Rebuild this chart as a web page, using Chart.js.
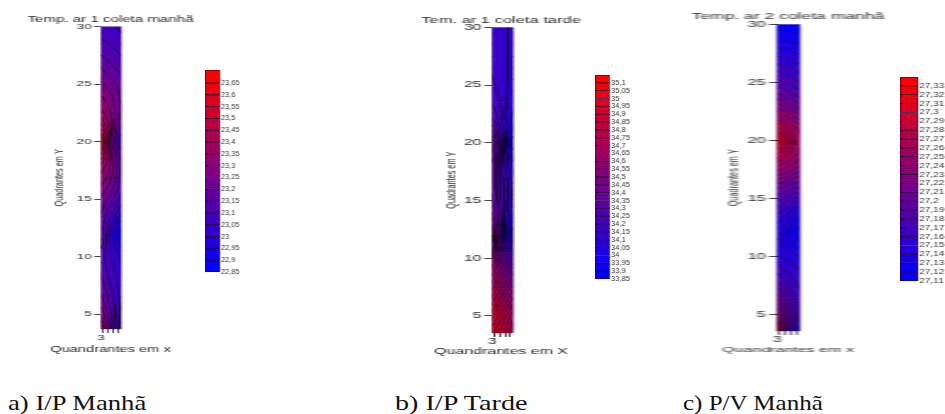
<!DOCTYPE html>
<html>
  <head>
    <meta charset="utf-8" />
    <script src="https://cdn.jsdelivr.net/npm/chart.js@4/dist/chart.umd.js"></script>
    <style>
      body { margin: 0; background: #fff; overflow: hidden; }
      .panel { position: absolute; top: 0; transform-origin: 0 0; filter: blur(0.4px); }
      .caption {
        position: absolute; top: 391px; transform-origin: 0 0; white-space: nowrap;
        font: 21px 'Liberation Serif', serif; color: #111;
      }
    </style>
  </head>

  <body>
    <div class="caption" style="left: 8px; transform: scaleX(1.27)">a) I/P Manhã</div>
    <div class="caption" style="left: 395px; transform: scaleX(1.34)">b) I/P Tarde</div>
    <div class="caption" style="left: 683px; transform: scaleX(1.19)">c) P/V Manhã</div>
    <script>
      // rows run top to bottom, columns left to right; last row is the bottom edge of the strip
      const rowsY = [30, 29, 28, 27, 26, 25, 24, 23, 22, 21, 20, 19, 18, 17, 16, 15, 14, 13, 12, 11, 10, 9, 8, 7, 6, 5, 3.5];
      const colsX = [3, 3.25, 3.5, 3.75, 4];
      const yTicks = [5, 10, 15, 20, 25, 30];

      const tempA = [
        [23.07, 23.06, 23.05, 23.05, 23.04],
        [23.10, 23.09, 23.08, 23.07, 23.06],
        [23.13, 23.12, 23.11, 23.10, 23.09],
        [23.17, 23.16, 23.14, 23.13, 23.11],
        [23.22, 23.20, 23.18, 23.16, 23.15],
        [23.26, 23.24, 23.22, 23.20, 23.17],
        [23.30, 23.28, 23.26, 23.22, 23.19],
        [23.34, 23.32, 23.28, 23.24, 23.20],
        [23.41, 23.36, 23.31, 23.25, 23.18],
        [23.51, 23.42, 23.32, 23.22, 23.13],
        [23.66, 23.46, 23.28, 23.16, 23.04],
        [23.51, 23.41, 23.31, 23.21, 23.12],
        [23.40, 23.35, 23.29, 23.22, 23.15],
        [23.34, 23.31, 23.26, 23.21, 23.14],
        [23.29, 23.26, 23.22, 23.17, 23.12],
        [23.24, 23.21, 23.17, 23.13, 23.08],
        [23.21, 23.16, 23.12, 23.07, 23.01],
        [23.18, 23.13, 23.07, 23.00, 22.93],
        [23.17, 23.10, 23.01, 22.94, 22.88],
        [23.16, 23.10, 23.04, 22.99, 22.94],
        [23.13, 23.09, 23.05, 23.02, 22.99],
        [23.13, 23.10, 23.07, 23.04, 23.01],
        [23.16, 23.12, 23.08, 23.05, 23.02],
        [23.19, 23.15, 23.11, 23.06, 23.03],
        [23.23, 23.18, 23.13, 23.08, 23.04],
        [23.29, 23.22, 23.16, 23.09, 23.04],
        [23.47, 23.30, 23.16, 23.09, 23.03],
      ];
      const tempB = [
        [34.13, 34.12, 34.11, 34.10, 34.09],
        [34.13, 34.12, 34.11, 34.10, 34.09],
        [34.14, 34.13, 34.12, 34.10, 34.09],
        [34.14, 34.13, 34.12, 34.10, 34.08],
        [34.15, 34.14, 34.12, 34.10, 34.08],
        [34.16, 34.14, 34.12, 34.10, 34.07],
        [34.18, 34.16, 34.13, 34.09, 34.06],
        [34.21, 34.18, 34.14, 34.09, 34.05],
        [34.26, 34.21, 34.15, 34.09, 34.03],
        [34.36, 34.27, 34.17, 34.07, 33.98],
        [34.50, 34.35, 34.18, 34.03, 33.90],
        [34.38, 34.30, 34.20, 34.08, 33.98],
        [34.34, 34.28, 34.20, 34.11, 34.02],
        [34.34, 34.28, 34.21, 34.14, 34.06],
        [34.34, 34.28, 34.22, 34.15, 34.08],
        [34.36, 34.29, 34.22, 34.15, 34.08],
        [34.40, 34.32, 34.23, 34.14, 34.05],
        [34.50, 34.38, 34.24, 34.10, 33.98],
        [34.70, 34.45, 34.25, 34.05, 33.88],
        [34.62, 34.48, 34.32, 34.18, 34.05],
        [34.62, 34.52, 34.41, 34.32, 34.24],
        [34.68, 34.60, 34.51, 34.44, 34.36],
        [34.76, 34.68, 34.60, 34.52, 34.45],
        [34.84, 34.76, 34.68, 34.60, 34.54],
        [34.92, 34.84, 34.76, 34.69, 34.62],
        [35.00, 34.92, 34.84, 34.77, 34.70],
        [35.12, 35.02, 34.93, 34.85, 34.76],
      ];
      const tempC = [
        [27.115, 27.114, 27.114, 27.113, 27.112],
        [27.126, 27.125, 27.124, 27.123, 27.122],
        [27.140, 27.138, 27.136, 27.135, 27.133],
        [27.154, 27.152, 27.150, 27.147, 27.145],
        [27.170, 27.167, 27.164, 27.161, 27.158],
        [27.184, 27.181, 27.178, 27.174, 27.170],
        [27.202, 27.198, 27.194, 27.190, 27.184],
        [27.225, 27.220, 27.214, 27.208, 27.202],
        [27.253, 27.246, 27.239, 27.232, 27.225],
        [27.285, 27.276, 27.264, 27.256, 27.248],
        [27.312, 27.298, 27.278, 27.262, 27.252],
        [27.285, 27.276, 27.264, 27.256, 27.248],
        [27.255, 27.250, 27.245, 27.240, 27.234],
        [27.230, 27.226, 27.222, 27.216, 27.211],
        [27.202, 27.200, 27.196, 27.192, 27.190],
        [27.184, 27.180, 27.175, 27.170, 27.165],
        [27.165, 27.160, 27.154, 27.148, 27.142],
        [27.151, 27.146, 27.138, 27.130, 27.124],
        [27.145, 27.138, 27.128, 27.120, 27.112],
        [27.145, 27.141, 27.136, 27.130, 27.124],
        [27.151, 27.149, 27.146, 27.143, 27.140],
        [27.165, 27.160, 27.156, 27.152, 27.149],
        [27.179, 27.172, 27.165, 27.160, 27.156],
        [27.197, 27.187, 27.177, 27.168, 27.161],
        [27.218, 27.203, 27.188, 27.175, 27.165],
        [27.243, 27.223, 27.200, 27.182, 27.165],
        [27.290, 27.245, 27.195, 27.160, 27.140],
      ];

      const levelsA = [22.85, 22.9, 22.95, 23, 23.05, 23.1, 23.15, 23.2, 23.25, 23.3, 23.35, 23.4, 23.45, 23.5, 23.55, 23.6, 23.65];
      const levelsB = [33.85, 33.9, 33.95, 34, 34.05, 34.1, 34.15, 34.2, 34.25, 34.3, 34.35, 34.4, 34.45, 34.5, 34.55, 34.6, 34.65, 34.7, 34.75, 34.8, 34.85, 34.9, 34.95, 35, 35.05, 35.1];
      const levelsC = [27.11, 27.12, 27.13, 27.14, 27.15, 27.16, 27.17, 27.18, 27.19, 27.2, 27.21, 27.22, 27.23, 27.24, 27.25, 27.26, 27.27, 27.28, 27.29, 27.3, 27.31, 27.32, 27.33];

      const FONT = "'Liberation Sans', Arial, sans-serif";
      const TEXT = '#2a2a2a';

      function mix(f) {
        const t = Math.max(0, Math.min(1, f));
        return `rgb(${Math.round(255 * t)},0,${Math.round(255 * (1 - t))})`;
      }

      function makeCanvas(left, width, scale) {
        const div = document.createElement('div');
        div.className = 'panel';
        div.style.left = left + 'px';
        div.style.transform = `scaleX(${scale})`;
        const canvas = document.createElement('canvas');
        canvas.width = Math.round(width / scale);
        canvas.height = 414;
        div.appendChild(canvas);
        document.body.appendChild(div);
        return canvas;
      }

      // iso lines of the read grid, one line dataset with gaps between the pieces
      function isoLines(field, levels) {
        const pts = [];
        const cross = (x0, y0, v0, x1, y1, v1, lvl, out) => {
          if (v0 < lvl !== v1 < lvl) {
            const t = (lvl - v0) / (v1 - v0);
            out.push({ x: x0 + (x1 - x0) * t, y: y0 + (y1 - y0) * t });
          }
        };
        levels.forEach((lvl) => {
          for (let r = 0; r < rowsY.length - 1; r++) {
            for (let c = 0; c < colsX.length - 1; c++) {
              const x0 = colsX[c], x1 = colsX[c + 1], y0 = rowsY[r], y1 = rowsY[r + 1];
              const a = field[r][c], b = field[r][c + 1], d = field[r + 1][c + 1], e = field[r + 1][c];
              const out = [];
              cross(x0, y0, a, x1, y0, b, lvl, out);
              cross(x1, y0, b, x1, y1, d, lvl, out);
              cross(x1, y1, d, x0, y1, e, lvl, out);
              cross(x0, y1, e, x0, y0, a, lvl, out);
              for (let i = 0; i + 1 < out.length; i += 2) {
                pts.push(out[i], out[i + 1], { x: out[i].x, y: NaN });
              }
            }
          }
        });
        return pts;
      }

      const areaBorder = {
        id: 'areaBorder',
        afterDatasetsDraw(chart) {
          const { ctx, chartArea: a } = chart;
          ctx.save();
          ctx.strokeStyle = 'rgba(50,10,70,0.65)';
          ctx.lineWidth = 0.45;
          ctx.strokeRect(a.left, a.top, a.right - a.left, a.bottom - a.top);
          ctx.restore();
        },
      };

      function drawStrip(o) {
        const canvas = makeCanvas(o.left, o.width, o.scale);
        const top = o.levels[o.levels.length - 1] + (o.levels[1] - o.levels[0]);
        const low = o.levels[0];
        const rowEdge = (r) => (r < 0 ? 31 : r >= rowsY.length - 1 ? 3 : (rowsY[r] + rowsY[r + 1]) / 2);
        const datasets = rowsY.map((y, r) => ({
          type: 'bar',
          order: 1,
          grouped: false,
          barPercentage: 1,
          categoryPercentage: 1,
          backgroundColor: colsX.map((x, c) => mix((o.field[r][c] - low) / (top - low))),
          data: colsX.map((x) => ({ x, y: [rowEdge(r), rowEdge(r - 1)] })),
        }));
        datasets.push({
          type: 'line',
          order: 0,
          data: isoLines(o.field, o.levels),
          borderColor: 'rgba(10,0,20,0.75)',
          borderWidth: 0.6,
          pointRadius: 0,
          tension: 0,
          spanGaps: false,
        });
        const xHeight = 14;
        const xLine = o.xTitleSize * 1.2;
        const yTitleLine = 7.3 * 1.2;
        new Chart(canvas.getContext('2d'), {
          type: 'bar',
          data: { datasets },
          plugins: [areaBorder],
          options: {
            responsive: false,
            animation: false,
            layout: {
              padding: { left: 0, right: 0, top: o.titleTop, bottom: 414 - o.xTitleY - xLine / 2 },
            },
            plugins: {
              legend: { display: false },
              tooltip: { enabled: false },
              title: {
                display: true,
                text: o.title,
                color: TEXT,
                font: { family: FONT, size: o.titleSize, weight: 'normal' },
                padding: { top: 0, bottom: o.titleGap },
              },
              subtitle: {
                display: true,
                position: 'bottom',
                text: o.xTitle,
                color: TEXT,
                font: { family: FONT, size: o.xTitleSize },
                padding: { top: Math.max(0, o.xTitleY - xLine / 2 - o.stripB - xHeight), bottom: 0 },
              },
            },
            scales: {
              x: {
                type: 'linear',
                offset: false,
                min: colsX[0],
                max: colsX[colsX.length - 1],
                afterFit: (s) => { s.height = xHeight; },
                afterBuildTicks: (s) => { s.ticks = colsX.map((value) => ({ value })); },
                grid: { drawOnChartArea: false, tickLength: 4, tickColor: '#444' },
                border: { display: false },
                ticks: {
                  autoSkip: false,
                  maxRotation: 0,
                  padding: 0,
                  color: TEXT,
                  font: { family: FONT, size: o.tickSize },
                  callback: (v) => (v === 3 ? '3' : ''),
                },
              },
              y: {
                min: o.yMin,
                max: 30,
                afterFit: (s) => { s.width = (o.stripL - o.left) / o.scale; },
                afterBuildTicks: (s) => { s.ticks = yTicks.map((value) => ({ value })); },
                grid: { drawOnChartArea: false, tickLength: 4, tickColor: '#444' },
                border: { display: false },
                ticks: { padding: 1.5, color: TEXT, font: { family: FONT, size: o.tickSize } },
                title: {
                  display: true,
                  text: 'Quadrantes em Y',
                  color: TEXT,
                  padding: { top: (o.yTitleX - o.left) / o.scale - yTitleLine / 2, bottom: 0 },
                  font: { family: FONT, size: 7.3 },
                },
              },
              // empty axis, only keeps the strip narrow and the titles wide
              rightGap: {
                position: 'right',
                afterFit: (s) => { s.width = canvas.width - (o.stripR - o.left) / o.scale; },
                grid: { display: false },
                border: { display: false },
                ticks: { display: false },
              },
            },
          },
        });
      }

      function drawLegend(o) {
        const canvas = makeCanvas(o.left, o.barW + 40 * o.scale, o.scale);
        const barW = o.barW / o.scale;
        const edges = o.levels.concat([o.topEdge]);
        const datasets = o.levels.map((lvl, i) => ({
          grouped: false,
          barPercentage: 1,
          categoryPercentage: 1,
          borderSkipped: false,
          borderWidth: 0.8,
          borderColor: 'rgb(40,0,50)',
          backgroundColor: mix(i / (o.levels.length - 1)),
          data: [[lvl, edges[i + 1]]],
        }));
        new Chart(canvas.getContext('2d'), {
          type: 'bar',
          data: { labels: [''], datasets },
          options: {
            responsive: false,
            animation: false,
            layout: { padding: { left: 0, right: canvas.width - barW - 32, top: o.top, bottom: 414 - o.bottom } },
            plugins: { legend: { display: false }, tooltip: { enabled: false } },
            scales: {
              x: { display: false },
              y: {
                position: 'right',
                min: o.levels[0],
                max: o.topEdge,
                afterFit: (s) => { s.width = 32; },
                afterBuildTicks: (s) => { s.ticks = o.levels.map((value) => ({ value })); },
                grid: { display: false, drawTicks: false },
                border: { display: false },
                ticks: {
                  autoSkip: false,
                  padding: 1,
                  color: '#333',
                  font: { family: FONT, size: 7.2 },
                  callback: (v) => String(Number(v.toFixed(2))).replace('.', ','),
                },
              },
            },
          },
        });
      }

      drawStrip({
        left: 0, width: 221, scale: 1.7, stripL: 101, stripR: 121, stripB: 329, yMin: 3.7, yTitleX: 59,
        xTitleY: 350, titleTop: 14, titleGap: 2, titleSize: 8.9, xTitleSize: 8.65, tickSize: 8,
        title: 'Temp. ar 1 coleta manhã', xTitle: 'Quandrantes em x', field: tempA, levels: levelsA,
      });
      drawStrip({
        left: 351, width: 300, scale: 1.9, stripL: 492, stripR: 513, stripB: 334, yMin: 3.53, yTitleX: 451,
        xTitleY: 352, titleTop: 15, titleGap: 2, titleSize: 8.7, xTitleSize: 8.4, tickSize: 8.4,
        title: 'Tem. ar 1 coleta tarde', xTitle: 'Quandrantes em X', field: tempB, levels: levelsB,
      });
      drawStrip({
        left: 688, width: 200, scale: 2, stripL: 777, stripR: 800, stripB: 331, yMin: 3.62, yTitleX: 734,
        xTitleY: 350, titleTop: 11, titleGap: 3, titleSize: 8.75, xTitleSize: 8, tickSize: 8.4,
        title: 'Temp. ar 2 coleta manhã', xTitle: 'Quandrantes em x', field: tempC, levels: levelsC,
      });

      drawLegend({ left: 205, barW: 15, scale: 1.02, top: 70, bottom: 272, levels: levelsA, topEdge: 23.705 });
      drawLegend({ left: 595, barW: 15, scale: 1.05, top: 75, bottom: 279, levels: levelsB, topEdge: 35.15 });
      drawLegend({ left: 900, barW: 18, scale: 1.4, top: 77, bottom: 281, levels: levelsC, topEdge: 27.34 });
    </script>
  </body>
</html>
